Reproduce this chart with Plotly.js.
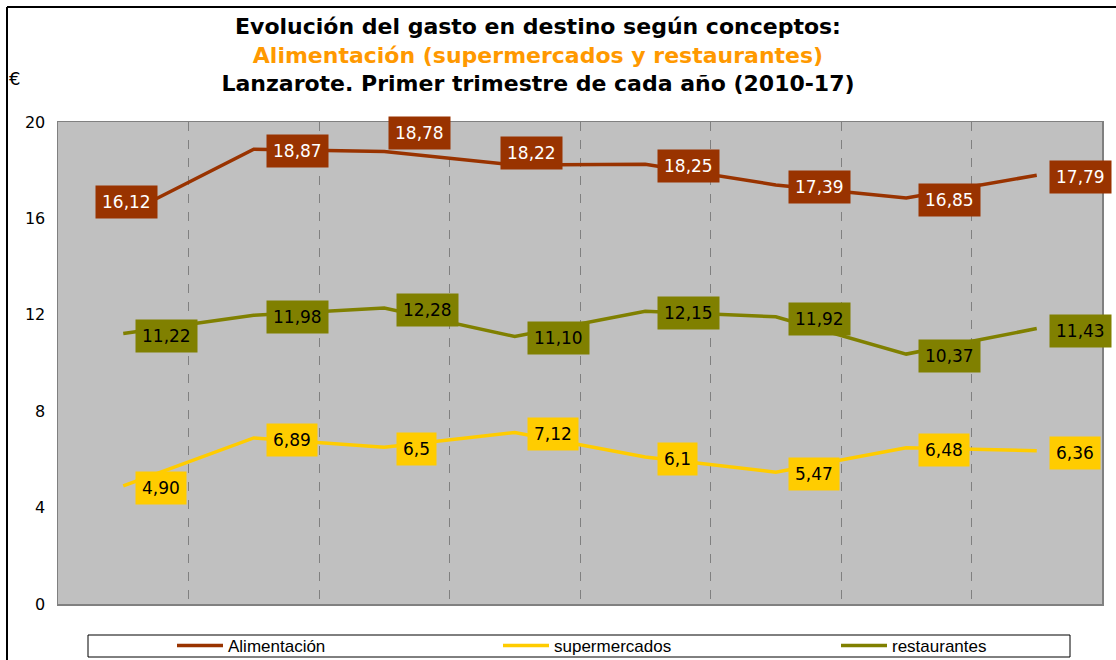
<!DOCTYPE html>
<html>
<head>
<meta charset="utf-8">
<script src="https://cdn.plot.ly/plotly-3.0.1.min.js"></script>
<style>
  html, body { margin: 0; padding: 0; background: #ffffff; }
  #chart { width: 1116px; height: 660px; }
</style>
</head>
<body>
<div id="chart"></div>
<script>
// ---- Data ----
const years = [2010, 2011, 2012, 2013, 2014, 2015, 2016, 2017];
const seriesNames = ["Alimentación", "supermercados", "restaurantes"];
const alimentacion = [16.12, 18.87, 18.78, 18.22, 18.25, 17.39, 16.85, 17.79];
const supermercados = [4.90, 6.89, 6.5, 7.12, 6.1, 5.47, 6.48, 6.36];
const restaurantes = [11.22, 11.98, 12.28, 11.10, 12.15, 11.92, 10.37, 11.43];
const alimentacionLabels = ["16,12", "18,87", "18,78", "18,22", "18,25", "17,39", "16,85", "17,79"];
const supermercadosLabels = ["4,90", "6,89", "6,5", "7,12", "6,1", "5,47", "6,48", "6,36"];
const restaurantesLabels = ["11,22", "11,98", "12,28", "11,10", "12,15", "11,92", "10,37", "11,43"];
const yTicks = [0, 4, 8, 12, 16, 20];

// ---- Styles ----
const colors = { alim: "#993300", super: "#FFCC00", rest: "#808000" };

const W = 1116, H = 660, L = 58, R = 14, T = 122, B = 56;
const pw = W - L - R, ph = H - T - B;
const px = v => (v - L) / pw;
const py = v => (H - B - v) / ph;

const traces = [
  { name: seriesNames[0], x: years, y: alimentacion, color: colors.alim, legend: "legend" },
  { name: seriesNames[1], x: years, y: supermercados, color: colors.super, legend: "legend2" },
  { name: seriesNames[2], x: years, y: restaurantes, color: colors.rest, legend: "legend3" }
].map(s => ({
  type: "scatter", mode: "lines", name: s.name, x: s.x, y: s.y, legend: s.legend,
  line: { color: s.color, width: 3.5 }, hoverinfo: "skip"
}));

// label placement overrides (Excel-style manual placement)
const labelOverrides = {
  "0-0": { xanchor: "center", xshift: 3, yshift: 14 },
  "0-2": { xanchor: "left", xshift: 4, yshift: 18 },
  "0-3": { xanchor: "center", xshift: 17, yshift: 12 }
};

const labelSets = [
  { vals: alimentacion, labels: alimentacionLabels, bg: colors.alim, fg: "#ffffff" },
  { vals: supermercados, labels: supermercadosLabels, bg: colors.super, fg: "#000000" },
  { vals: restaurantes, labels: restaurantesLabels, bg: colors.rest, fg: "#000000" }
];

const annotations = [];
labelSets.forEach((set, si) => {
  set.vals.forEach((v, i) => {
    const ov = labelOverrides[si + "-" + i] || {};
    annotations.push({
      x: years[i], y: v, xref: "x", yref: "y",
      text: set.labels[i], showarrow: false,
      xanchor: ov.xanchor || "left", yanchor: "middle",
      xshift: ov.xshift !== undefined ? ov.xshift : 12,
      yshift: ov.yshift !== undefined ? ov.yshift : -2,
      bgcolor: set.bg, borderpad: 6,
      font: { family: "DejaVu Sans, Verdana, sans-serif", size: 17, color: set.fg }
    });
  });
});

// Euro unit label
annotations.push({
  xref: "paper", yref: "paper", x: px(14), y: py(78), xanchor: "center", yanchor: "middle",
  text: "€", showarrow: false,
  font: { family: "DejaVu Sans, Verdana, sans-serif", size: 18, color: "#000" }
});

const shapes = [
  // outer chart frame (top and left edges visible)
  { type: "line", xref: "paper", yref: "paper", x0: px(7), x1: px(1120), y0: py(7), y1: py(7), line: { color: "#000", width: 2 } },
  { type: "line", xref: "paper", yref: "paper", x0: px(7), x1: px(7), y0: py(7), y1: py(665), line: { color: "#000", width: 2 } },
  // legend frame
  { type: "rect", xref: "paper", yref: "paper", x0: px(88), x1: px(1070), y0: py(635), y1: py(657), line: { color: "#000", width: 1 }, fillcolor: "rgba(0,0,0,0)" }
];

const gridVals = years.slice(1).map(y => y - 0.5);

const legendBase = {
  xanchor: "left", y: py(646), yanchor: "middle",
  bgcolor: "rgba(0,0,0,0)", borderwidth: 0, itemwidth: 46,
  font: { family: "Liberation Sans, Arial, sans-serif", size: 17, color: "#000" }
};

const layout = {
  width: W, height: H,
  margin: { l: L, r: R, t: T, b: B, pad: 0, autoexpand: false },
  paper_bgcolor: "#ffffff",
  plot_bgcolor: "#C0C0C0",
  title: {
    text: "Evolución del gasto en destino según conceptos:<br><span style=\"color:#FF9900\">Alimentación (supermercados y restaurantes)</span><br>Lanzarote. Primer trimestre de cada año (2010-17)",
    x: 538 / W, xref: "container", xanchor: "center",
    y: 1 - 34 / H, yref: "container", yanchor: "top",
    font: { family: "DejaVu Sans, Verdana, sans-serif", size: 22, color: "#000", weight: "bold" }
  },
  showlegend: true,
  legend: Object.assign({}, legendBase, { x: px(172) }),
  legend2: Object.assign({}, legendBase, { x: px(498) }),
  legend3: Object.assign({}, legendBase, { x: px(836) }),
  xaxis: {
    range: [years[0] - 0.5, years[years.length - 1] + 0.5],
    showticklabels: false, ticks: "",
    tickvals: gridVals, showgrid: true, gridcolor: "#808080", griddash: "dash", gridwidth: 1,
    zeroline: false, showline: true, mirror: true, linecolor: "#808080", linewidth: 1.5,
    fixedrange: true
  },
  yaxis: {
    range: [0, 20], tickvals: yTicks, ticktext: yTicks.map(String),
    showgrid: false, zeroline: false, showline: true, mirror: true,
    linecolor: "#808080", linewidth: 1.5, ticks: "", ticklabelstandoff: 8,
    tickfont: { family: "DejaVu Sans, Verdana, sans-serif", size: 16, color: "#000" },
    fixedrange: true
  },
  annotations: annotations,
  shapes: shapes
};

Plotly.newPlot("chart", traces, layout, { displayModeBar: false, staticPlot: true });
</script>
</body>
</html>
